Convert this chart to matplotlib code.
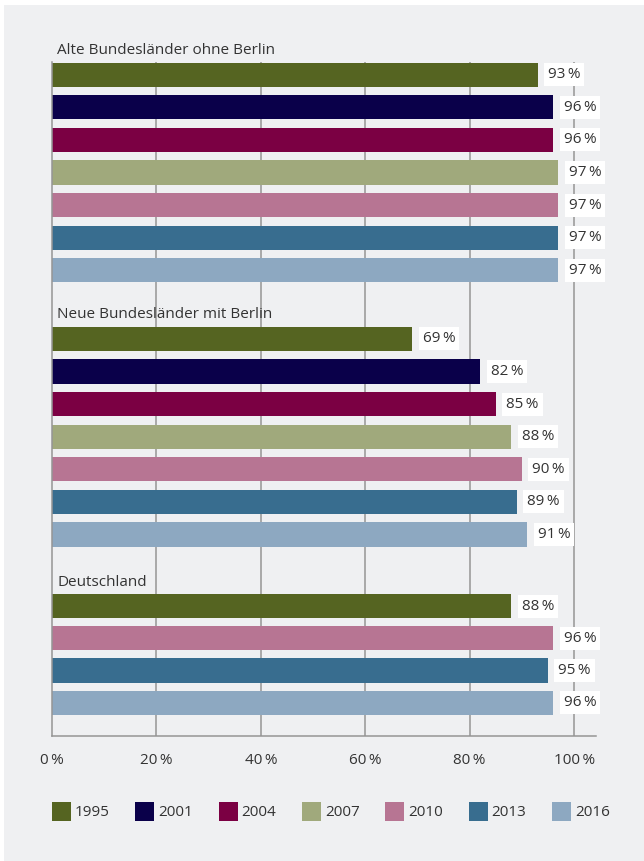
import matplotlib.pyplot as plt
from matplotlib.patches import Rectangle

plt.rcParams['font.family'] = ['Open Sans', 'DejaVu Sans']

years = ['1995', '2001', '2004', '2007', '2010', '2013', '2016']
colors = ['#556421', '#0a004a', '#7b0043', '#a0a97c', '#b77593', '#386d8f', '#8da8c1']

groups = ['Alte Bundesländer ohne Berlin', 'Neue Bundesländer mit Berlin', 'Deutschland']
alte = [93, 96, 96, 97, 97, 97, 97]
neue = [69, 82, 85, 88, 90, 89, 91]
deutschland_years = ['1995', '2010', '2013', '2016']
deutschland = [88, 96, 95, 96]

xticks = [0, 20, 40, 60, 80, 100]

bg = '#eff0f2'
txt = '#333333'
fs = 11

fig = plt.figure(figsize=(6.44, 8.61), dpi=100, facecolor='white')
fig.patches.append(Rectangle((4 / 644, 0), 1, 1 - 5 / 861, transform=fig.transFigure,
                             facecolor=bg, edgecolor='none', zorder=-10))

W, H = 644, 861
ax = fig.add_axes([52 / W, 1 - 736 / H, 544 / W, 674 / H])
ax.set_facecolor('none')

# y positions in slot units (one slot per bar)
series = [(groups[0], years, alte, 0.0),
          (groups[1], years, neue, 8.1),
          (groups[2], deutschland_years, deutschland, 16.3)]

for name, yrs, vals, start in series:
    for i, (yr, v) in enumerate(zip(yrs, vals)):
        y = start + i * (0.985 if start > 16 else 1.0)
        ax.barh(y, v, height=0.74, color=colors[years.index(yr)], zorder=2)
        ax.annotate(f'{v}\u2009%', (v, y), xytext=(7.5, 0), textcoords='offset points',
                    ha='left', va='center', fontsize=fs, color=txt, zorder=4,
                    bbox=dict(boxstyle='square,pad=0.26', fc='white', ec='none'))
    ax.text(1, start - 0.74, name, ha='left', va='center', fontsize=fs, color=txt)

ax.set_xlim(0, 104.2)
ax.set_ylim(20.28, -0.39)

for x in xticks[1:]:
    ax.axvline(x, color='#959595', lw=1.1, zorder=1)

for s in ['top', 'right']:
    ax.spines[s].set_visible(False)
for s in ['left', 'bottom']:
    ax.spines[s].set_color('#959595')
    ax.spines[s].set_linewidth(1.1)

ax.set_yticks([])
ax.set_xticks(xticks)
ax.set_xticklabels([f'{t}\u2009%' for t in xticks], fontsize=fs, color=txt)
ax.tick_params(axis='x', length=0, pad=12)

# legend
for i, (yr, c) in enumerate(zip(years, colors)):
    x0 = 52 + i * 83.3
    fig.patches.append(Rectangle((x0 / W, 1 - 821 / H), 19 / W, 19 / H,
                                 transform=fig.transFigure, facecolor=c, edgecolor='none'))
    fig.text((x0 + 23) / W, 1 - 812 / H, yr, ha='left', va='center', fontsize=fs, color=txt)

fig.savefig('out.png', dpi=100, facecolor=fig.get_facecolor())
